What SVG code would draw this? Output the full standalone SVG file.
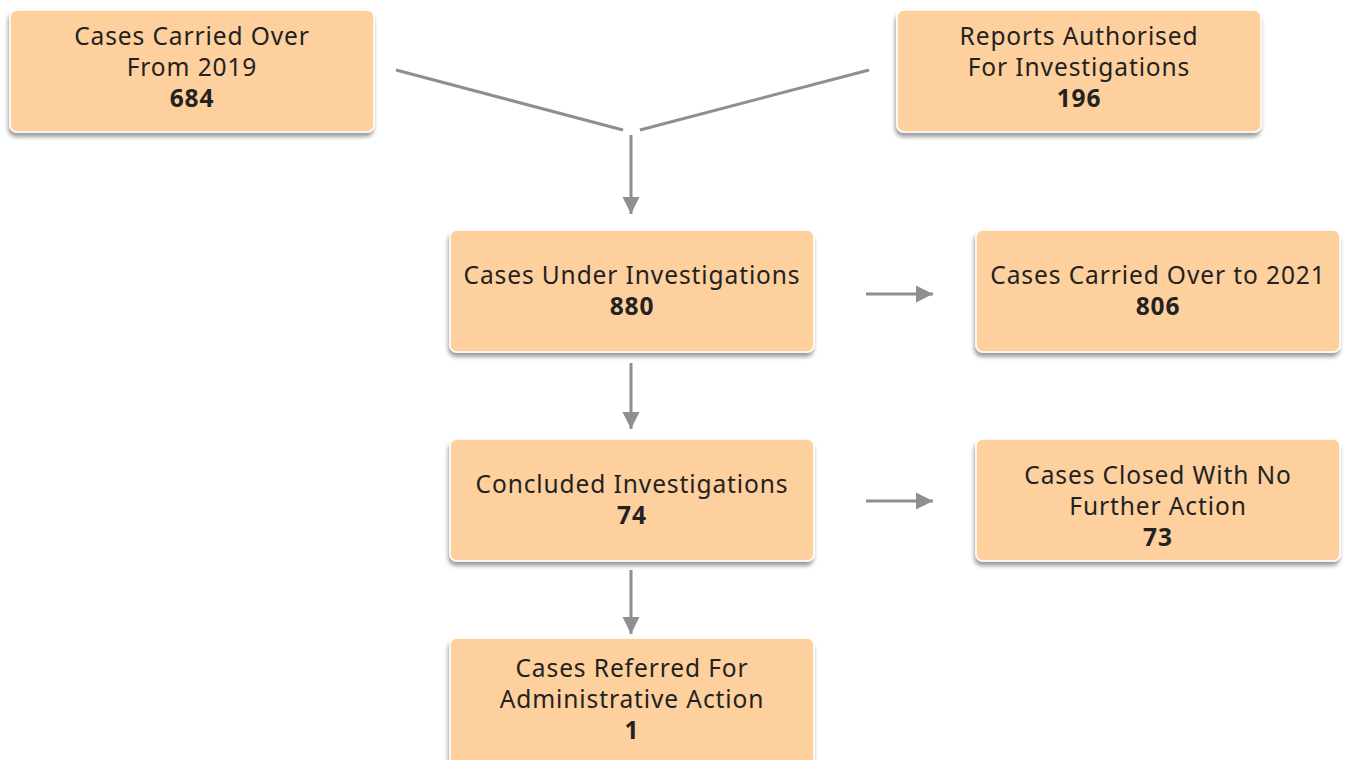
<svg xmlns="http://www.w3.org/2000/svg" width="1346" height="760" viewBox="0 0 1346 760">
<style>
.box{fill:#FDD09D;stroke:#FFFFFF;stroke-width:1.5;filter:url(#sh)}
.t{font-family:"Noto Sans","Liberation Sans",sans-serif;font-size:24.5px;letter-spacing:0.9px;fill:#222;text-anchor:middle}
.b{font-weight:bold}
.ln{stroke:#8E8E93;stroke-width:3;fill:none}
</style>
<defs>
<filter id="sh" x="-10%" y="-10%" width="120%" height="140%">
<feDropShadow dx="-1" dy="4" stdDeviation="2" flood-color="#000" flood-opacity="0.4"/>
</filter>
<marker id="ah" viewBox="0 0 10 10" refX="10" refY="5" markerWidth="5.7" markerHeight="6.2" markerUnits="strokeWidth" orient="auto">
<path d="M0,0 L10,5 L0,10 z" fill="#8E8E93"/>
</marker>
</defs>
<g id="connectors">
<line class="ln" x1="396" y1="70" x2="623" y2="130"/>
<line class="ln" x1="869" y1="70" x2="640" y2="130"/>
<line class="ln" x1="631" y1="135" x2="631" y2="214" marker-end="url(#ah)"/>
<line class="ln" x1="866" y1="294" x2="933" y2="294" marker-end="url(#ah)"/>
<line class="ln" x1="631" y1="363" x2="631" y2="429" marker-end="url(#ah)"/>
<line class="ln" x1="866" y1="501" x2="933" y2="501" marker-end="url(#ah)"/>
<line class="ln" x1="631" y1="570" x2="631" y2="634" marker-end="url(#ah)"/>
</g>
<g id="n1">
<rect class="box" x="10" y="10" width="364" height="122" rx="7"/>
<text class="t" x="192" y="45">Cases Carried Over</text>
<text class="t" x="192" y="76">From 2019</text>
<text class="t b" x="192" y="107">684</text>
</g>
<g id="n2">
<rect class="box" x="897" y="10" width="364" height="122" rx="7"/>
<text class="t" x="1079" y="45">Reports Authorised</text>
<text class="t" x="1079" y="76">For Investigations</text>
<text class="t b" x="1079" y="107">196</text>
</g>
<g id="n3">
<rect class="box" x="450" y="230" width="364" height="122" rx="7"/>
<text class="t" x="632" y="284">Cases Under Investigations</text>
<text class="t b" x="632" y="315">880</text>
</g>
<g id="n4">
<rect class="box" x="976" y="230" width="364" height="122" rx="7"/>
<text class="t" x="1158" y="284">Cases Carried Over to 2021</text>
<text class="t b" x="1158" y="315">806</text>
</g>
<g id="n5">
<rect class="box" x="450" y="439" width="364" height="122" rx="7"/>
<text class="t" x="632" y="493">Concluded Investigations</text>
<text class="t b" x="632" y="524">74</text>
</g>
<g id="n6">
<rect class="box" x="976" y="439" width="364" height="122" rx="7"/>
<text class="t" x="1158" y="484">Cases Closed With No</text>
<text class="t" x="1158" y="515">Further Action</text>
<text class="t b" x="1158" y="546">73</text>
</g>
<g id="n7">
<rect class="box" x="450" y="638" width="364" height="130" rx="7"/>
<text class="t" x="632" y="677">Cases Referred For</text>
<text class="t" x="632" y="708">Administrative Action</text>
<text class="t b" x="632" y="739">1</text>
</g>
</svg>
